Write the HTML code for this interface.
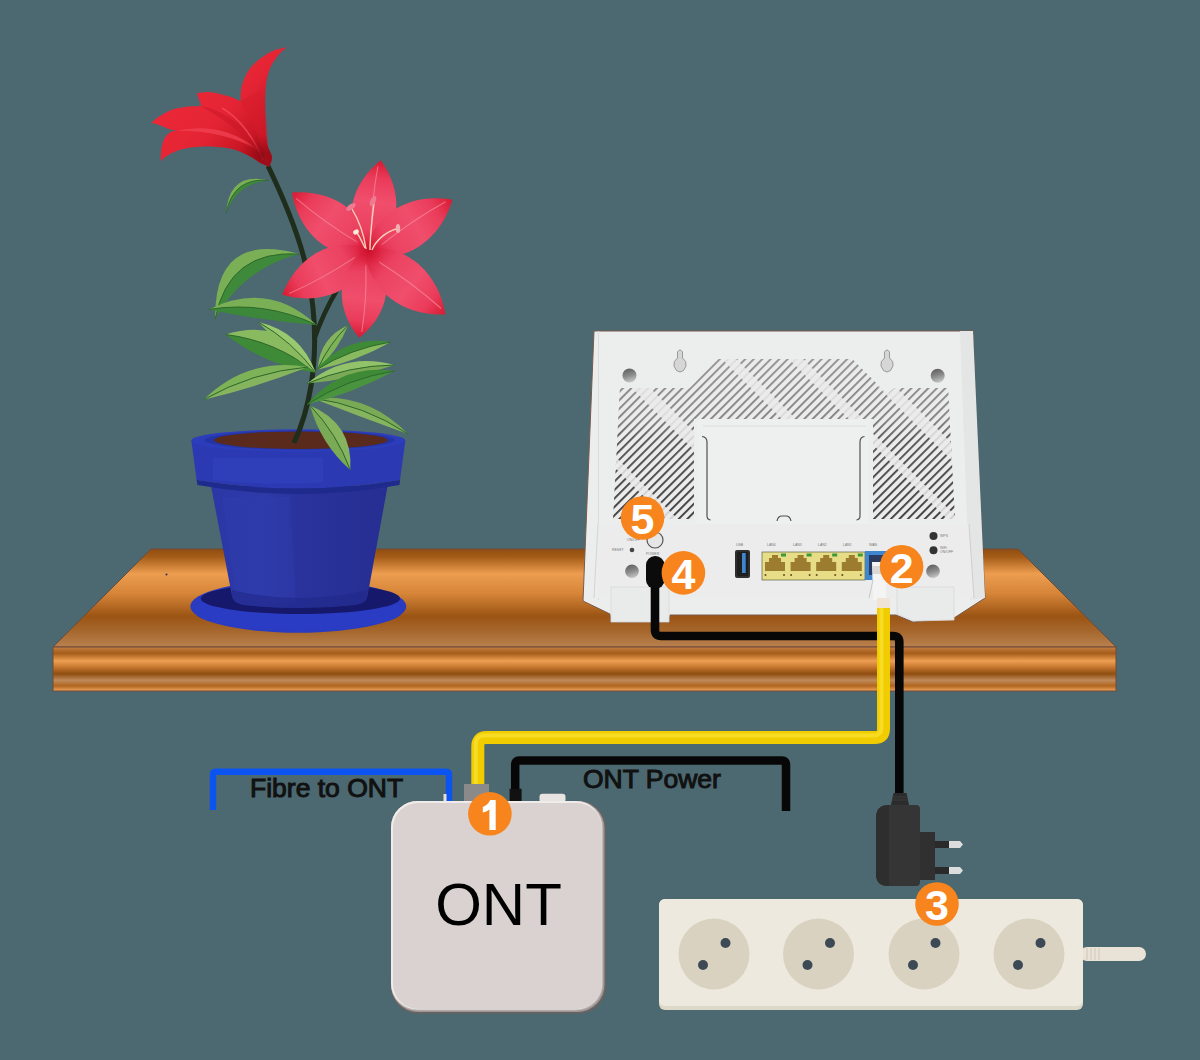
<!DOCTYPE html>
<html><head><meta charset="utf-8">
<style>
html,body{margin:0;padding:0;background:#4c6870;width:1200px;height:1060px;overflow:hidden}
svg{display:block}
text{font-family:"Liberation Sans",sans-serif}
</style></head><body>
<svg width="1200" height="1060" viewBox="0 0 1200 1060">
<defs>
<linearGradient id="shelfTop" x1="0" y1="549" x2="0" y2="648" gradientUnits="userSpaceOnUse">
<stop offset="0" stop-color="#8f4d10"/>
<stop offset="0.08" stop-color="#a45c18"/>
<stop offset="0.25" stop-color="#ec9d4f"/>
<stop offset="0.45" stop-color="#d68538"/>
<stop offset="0.68" stop-color="#9b5414"/>
<stop offset="0.85" stop-color="#a86a30"/>
<stop offset="1" stop-color="#bb8352"/>
</linearGradient>
<linearGradient id="shelfFront" x1="0" y1="648" x2="0" y2="691" gradientUnits="userSpaceOnUse">
<stop offset="0" stop-color="#c07a3c"/>
<stop offset="0.12" stop-color="#a45c1a"/>
<stop offset="0.3" stop-color="#ee9f52"/>
<stop offset="0.45" stop-color="#c4762e"/>
<stop offset="0.6" stop-color="#8f4d10"/>
<stop offset="0.75" stop-color="#c08a5a"/>
<stop offset="0.88" stop-color="#b0661f"/>
<stop offset="1" stop-color="#f0a45c"/>
</linearGradient>
<pattern id="vent" patternUnits="userSpaceOnUse" width="6" height="6" patternTransform="rotate(-45)">
<rect width="6" height="6" fill="#ebebeb"/>
<rect y="0" width="6" height="1.8" fill="#333333"/>
</pattern>
<linearGradient id="ventFade" x1="0" y1="359" x2="0" y2="519" gradientUnits="userSpaceOnUse">
<stop offset="0" stop-color="#ececec" stop-opacity="0.5"/>
<stop offset="0.38" stop-color="#ececec" stop-opacity="0.4"/>
<stop offset="0.5" stop-color="#ececec" stop-opacity="0.15"/>
<stop offset="1" stop-color="#ececec" stop-opacity="0"/>
</linearGradient>
<linearGradient id="upLily" x1="160" y1="60" x2="272" y2="166" gradientUnits="userSpaceOnUse">
<stop offset="0" stop-color="#f02a3a"/>
<stop offset="0.55" stop-color="#e42434"/>
<stop offset="0.85" stop-color="#c0121f"/>
<stop offset="1" stop-color="#9a0c18"/>
</linearGradient>
<linearGradient id="petalG" x1="0" y1="0" x2="1" y2="0">
<stop offset="0" stop-color="#d81c3a"/>
<stop offset="0.25" stop-color="#ec4262"/>
<stop offset="0.55" stop-color="#f04e6c"/>
<stop offset="0.8" stop-color="#ea3c5a"/>
<stop offset="1" stop-color="#d81a32"/>
</linearGradient>
<radialGradient id="centerG">
<stop offset="0" stop-color="#c8102a" stop-opacity="0.9"/>
<stop offset="0.5" stop-color="#d81c38" stop-opacity="0.6"/>
<stop offset="1" stop-color="#e83050" stop-opacity="0"/>
</radialGradient>
<linearGradient id="screwG" x1="0.3" y1="0" x2="0.6" y2="1">
<stop offset="0" stop-color="#5e5e5e"/>
<stop offset="0.5" stop-color="#8a8a8a"/>
<stop offset="1" stop-color="#c8c8c8"/>
</linearGradient>
<radialGradient id="baseG">
<stop offset="0" stop-color="#8a0a14" stop-opacity="0.9"/>
<stop offset="0.5" stop-color="#a00c18" stop-opacity="0.55"/>
<stop offset="1" stop-color="#b01020" stop-opacity="0"/>
</radialGradient>
<linearGradient id="potBody" x1="211" y1="0" x2="387" y2="0" gradientUnits="userSpaceOnUse">
<stop offset="0" stop-color="#2c37a6"/>
<stop offset="0.3" stop-color="#2d3aa8"/>
<stop offset="0.5" stop-color="#2a339c"/>
<stop offset="1" stop-color="#262e92"/>
</linearGradient>
</defs>
<rect width="1200" height="1060" fill="#4c6870"/>

<g id="shelf">
<path d="M151 549 L1018 549 L1116 647 L53 647 Z" fill="url(#shelfTop)" stroke="#6e4a3a" stroke-width="1"/>
<rect x="53" y="647" width="1063" height="44" fill="url(#shelfFront)" stroke="#6e4a3a" stroke-width="1"/>
<circle cx="166.5" cy="574.5" r="1" fill="#2a3050"/>
</g>
<g id="router">
<path d="M594 331 L973 331 L976 420 L985 598 L954 618 L913 622 L896 615 L670 615 L669 622 L611 622 L610 614 L583 601 Z" fill="#eceded" stroke="#7a5a4a" stroke-width="1"/>
<path d="M960 331 L973 331 L985 598 L970 600 Z" fill="#e4e5e5"/>
<path d="M598 331 L599 331 L599 600 L598 600 Z" fill="#dcdcdc"/>
<!-- vents -->
<path d="M620 388 L690 388 L718 359 L852 359 L887 394 L895 388 L948 388 L955 519 L873 519 L873 419 L694 419 L694 519 L613 519 Z" fill="url(#vent)"/>
<!-- light crossing bands -->
<path d="M620 388 L690 388 L718 359 L852 359 L887 394 L895 388 L948 388 L955 519 L873 519 L873 419 L694 419 L694 519 L613 519 Z" fill="url(#ventFade)"/>
<clipPath id="ventClip"><path d="M620 388 L690 388 L718 359 L852 359 L887 394 L895 388 L948 388 L955 519 L873 519 L873 419 L694 419 L694 519 L613 519 Z"/></clipPath>
<g clip-path="url(#ventClip)" stroke="#ebebeb" stroke-opacity="0.85" fill="none">
<path d="M625 372 L700 447" stroke-width="13"/>
<path d="M605 452 L680 527" stroke-width="8"/>
<path d="M722 352 L790 420" stroke-width="10"/>
<path d="M789 352 L857 420" stroke-width="10"/>
<path d="M880 380 L960 460" stroke-width="12"/>
<path d="M866 432 L955 521" stroke-width="8"/>
</g>
<!-- panel -->
<rect x="697" y="420" width="171" height="104" fill="#eeefef"/>
<path d="M703 426 L866 426" stroke="#dcdcdc" stroke-width="1"/>
<path d="M702 436.5 Q707 437 707 442 L707 516 Q707 519.5 710.5 520" fill="none" stroke="#505050" stroke-width="1.2"/>
<path d="M864.5 436.5 Q860 437 860 442 L860 516 Q860 519.5 856.5 520" fill="none" stroke="#505050" stroke-width="1.2"/>
<path d="M777 521 Q778 516 782 516 L786 516 Q790 516 791 521" fill="none" stroke="#505050" stroke-width="1.2"/>
<!-- lower panel -->
<path d="M598 524 L969 524 L974 598 L598 598 Z" fill="#ececec"/>
<path d="M598 524 L594 598" stroke="#d4d4d4" stroke-width="1"/>
<path d="M969 524 L974 598" stroke="#cfcfcf" stroke-width="1"/>
<!-- feet -->
<path d="M611 587 L669 587 L669 622 L611 622 Z" fill="#e9eaea" stroke="#d8d8d8" stroke-width="0.8"/>
<path d="M897 587 L954 587 L954 620 L913 621 L897 614 Z" fill="#e9eaea" stroke="#d8d8d8" stroke-width="0.8"/>
<!-- screws / keyholes -->
<g fill="url(#screwG)">
<circle cx="629.5" cy="375.5" r="7"/><circle cx="937.7" cy="375.8" r="7"/>
<circle cx="632" cy="571.3" r="6.8"/><circle cx="933" cy="571.3" r="6.8"/>
</g>
<g fill="#d6d6d6" stroke="#9a9a9a" stroke-width="1">
<path d="M677.5 352 Q680 348 682.5 352 L682.5 358 Q687 361 686 366 Q684 372 680 372 Q676 372 674 366 Q673 361 677.5 358 Z"/>
<path d="M884.5 352 Q887 348 889.5 352 L889.5 358 Q894 361 893 366 Q891 372 887 372 Q883 372 881 366 Q880 361 884.5 358 Z"/>
</g>
<!-- button, reset, leds -->
<circle cx="655" cy="540" r="8" fill="#e6e6e6" stroke="#555" stroke-width="1.2"/>
<circle cx="632" cy="550" r="2.3" fill="#444"/>
<circle cx="933.5" cy="536" r="4" fill="#333"/>
<circle cx="933.5" cy="550.2" r="4" fill="#333"/>
<g font-size="3.5" fill="#777">
<text x="612" y="551">RESET</text><text x="627" y="541">ON/OFF</text><text x="646" y="555">POWER</text>
<text x="736" y="546">USB</text><text x="767" y="546">LAN4</text><text x="793" y="546">LAN3</text><text x="818" y="546">LAN2</text><text x="843" y="546">LAN1</text><text x="869" y="546">WAN</text>
<text x="940" y="537">WPS</text><text x="940" y="549">WiFi</text><text x="940" y="553">ON/OFF</text>
</g>
<!-- USB -->
<rect x="735" y="550" width="15" height="28" rx="2" fill="#2e2e2e"/>
<rect x="737" y="552" width="11" height="24" rx="1" fill="#1e1e1e"/>
<rect x="742" y="553" width="3.7" height="20" fill="#3f86d0"/>
<!-- LAN -->
<rect x="762" y="552" width="103" height="28" fill="#e6dd86" stroke="#4a4a3a" stroke-width="0.6"/>


<path d="M765.0 571 L765.0 562 L769.0 562 L769.0 558 L772.0 558 L772.0 555 L778.0 555 L778.0 558 L781.0 558 L781.0 562 L785.0 562 L785.0 571 Z" fill="#9c7c2e"/>
<rect x="781.0" y="553.5" width="5" height="3" fill="#3c9a3c"/>
<circle cx="765.5" cy="575" r="1" fill="#6a4a20"/><circle cx="784.0" cy="575" r="1" fill="#6a4a20"/>

<path d="M790.6 571 L790.6 562 L794.6 562 L794.6 558 L797.6 558 L797.6 555 L803.6 555 L803.6 558 L806.6 558 L806.6 562 L810.6 562 L810.6 571 Z" fill="#9c7c2e"/>
<rect x="806.6" y="553.5" width="5" height="3" fill="#3c9a3c"/>
<circle cx="791.1" cy="575" r="1" fill="#6a4a20"/><circle cx="809.6" cy="575" r="1" fill="#6a4a20"/>

<path d="M816.2 571 L816.2 562 L820.2 562 L820.2 558 L823.2 558 L823.2 555 L829.2 555 L829.2 558 L832.2 558 L832.2 562 L836.2 562 L836.2 571 Z" fill="#9c7c2e"/>
<rect x="832.2" y="553.5" width="5" height="3" fill="#3c9a3c"/>
<circle cx="816.7" cy="575" r="1" fill="#6a4a20"/><circle cx="835.2" cy="575" r="1" fill="#6a4a20"/>

<path d="M841.8 571 L841.8 562 L845.8 562 L845.8 558 L848.8 558 L848.8 555 L854.8 555 L854.8 558 L857.8 558 L857.8 562 L861.8 562 L861.8 571 Z" fill="#9c7c2e"/>
<rect x="857.8" y="553.5" width="5" height="3" fill="#3c9a3c"/>
<circle cx="842.3" cy="575" r="1" fill="#6a4a20"/><circle cx="860.8" cy="575" r="1" fill="#6a4a20"/>
<rect x="865" y="551" width="22" height="29" fill="#3f86d0"/>
<rect x="869" y="555" width="16" height="20" fill="#2a3a60"/>
<path d="M872 562 L886 562 L886 600 L873 600 Z" fill="#f4f4f4"/>
<path d="M873 566 L885 566 L885 574 L873 574 Z" fill="#d8d8d8"/>
<path d="M869 598 L873 580" stroke="#c8c8c8" stroke-width="1"/>
<!-- power plug -->
<rect x="646" y="556" width="18.5" height="33" rx="9" fill="#0b0b0b"/>
</g>
<g id="pot">
<ellipse cx="298.3" cy="606.4" rx="108" ry="26.4" fill="#2a3bbf"/>
<ellipse cx="298.3" cy="611" rx="104" ry="20" fill="#2b3cc4"/>
<ellipse cx="300.4" cy="598.5" rx="99.6" ry="15.5" fill="#16186c"/>
<path d="M211 486 L387.6 486 L367.5 596 Q367 603 355 605 Q299 611 244 605 Q233 603 232 596 Z" fill="url(#potBody)"/>
<path d="M222 497 L290 497 L296 603 Q270 604 244 601 Q236 598 235 590 Z" fill="#3040b2" opacity="0.35"/>
<path d="M232 590 Q299 606 367.5 590 L367 597 Q367 603 355 605 Q299 611 244 605 Q233 603 232 597 Z" fill="#202888" opacity="0.6"/>
<path d="M191.4 441 L405.3 441 L400 480 Q298.3 497 196.6 480 Z" fill="#2b3ab2"/>
<path d="M213 458 L323 458 L323 482 Q268 486 213 480 Z" fill="#3546c2" opacity="0.45"/>
<path d="M196.6 480 Q298.3 497 400 480 L399.5 485 Q298.3 503 197.5 485 Z" fill="#1e2a8c"/>
<ellipse cx="298.3" cy="440.5" rx="107" ry="11.2" fill="#2c3dbc"/>
<ellipse cx="299.5" cy="440.2" rx="95" ry="9.5" fill="#2434a6"/>
<ellipse cx="300.8" cy="440.2" rx="86.8" ry="8.8" fill="#5a2a1c"/>
</g>
<g id="plant">
<path d="M268 166 C282 195 300 235 308 275 C316 315 316 355 311 386 C307 410 300 430 294 443" fill="none" stroke="#1f2e1c" stroke-width="5"/>
<path d="M314 340 C320 322 328 305 337 290" fill="none" stroke="#1f2e1c" stroke-width="4.5"/>
<path d="M268.9 180.4 Q228.8 171.6 226.4 212.5 Q233.2 177.3 268.9 180.4 Z" fill="#7aaf55"/><path d="M268.9 180.4 Q237.5 183.0 226.4 212.5 Q233.2 177.3 268.9 180.4 Z" fill="#3f8a3a"/><path d="M268.9 180.4 Q233.2 177.3 226.4 212.5" fill="none" stroke="#2d6a28" stroke-width="1"/>
<path d="M299.4 254.1 Q214.0 230.3 215.2 319.0 Q228.6 249.3 299.4 254.1 Z" fill="#7aaf55"/><path d="M299.4 254.1 Q243.3 268.3 215.2 319.0 Q228.6 249.3 299.4 254.1 Z" fill="#3f8a3a"/><path d="M299.4 254.1 Q228.6 249.3 215.2 319.0" fill="none" stroke="#2d6a28" stroke-width="1"/>
<path d="M316.7 325.0 Q268.2 279.8 208.8 309.4 Q265.2 300.4 316.7 325.0 Z" fill="#7aaf55"/><path d="M316.7 325.0 Q262.2 321.0 208.8 309.4 Q265.2 300.4 316.7 325.0 Z" fill="#3d873a"/><path d="M316.7 325.0 Q265.2 300.4 208.8 309.4" fill="none" stroke="#2d6a28" stroke-width="1"/>
<path d="M315.8 372.8 Q286.9 315.7 225.7 334.5 Q276.2 340.8 315.8 372.8 Z" fill="#8aba60"/><path d="M315.8 372.8 Q265.6 365.8 225.7 334.5 Q276.2 340.8 315.8 372.8 Z" fill="#3e8a36"/><path d="M315.8 372.8 Q276.2 340.8 225.7 334.5" fill="none" stroke="#2d6a28" stroke-width="1"/>
<path d="M315.8 372.8 Q300.8 331.8 258.3 322.0 Q292.3 341.4 315.8 372.8 Z" fill="#9ac870"/><path d="M315.8 372.8 Q283.9 351.0 258.3 322.0 Q292.3 341.4 315.8 372.8 Z" fill="#8aba60"/><path d="M315.8 372.8 Q292.3 341.4 258.3 322.0" fill="none" stroke="#2d6a28" stroke-width="1"/>
<path d="M308.0 367.0 Q247.4 356.6 203.6 399.7 Q252.2 371.9 308.0 367.0 Z" fill="#7db257"/><path d="M308.0 367.0 Q257.0 387.2 203.6 399.7 Q252.2 371.9 308.0 367.0 Z" fill="#86b45e"/><path d="M308.0 367.0 Q252.2 371.9 203.6 399.7" fill="none" stroke="#2d6a28" stroke-width="1"/>
<path d="M317.7 369.0 Q338.1 350.5 348.3 325.0 Q328.9 344.1 317.7 369.0 Z" fill="#7db257"/><path d="M317.7 369.0 Q319.7 337.8 348.3 325.0 Q328.9 344.1 317.7 369.0 Z" fill="#86b45e"/><path d="M317.7 369.0 Q328.9 344.1 348.3 325.0" fill="none" stroke="#2d6a28" stroke-width="1"/>
<path d="M316.0 370.0 Q355.6 362.0 390.8 342.0 Q350.6 348.5 316.0 370.0 Z" fill="#8aba60"/><path d="M316.0 370.0 Q345.5 335.0 390.8 342.0 Q350.6 348.5 316.0 370.0 Z" fill="#3e8a36"/><path d="M316.0 370.0 Q350.6 348.5 390.8 342.0" fill="none" stroke="#2d6a28" stroke-width="1"/>
<path d="M307.0 383.6 Q351.9 379.6 394.5 365.0 Q348.9 365.5 307.0 383.6 Z" fill="#7aaa55"/><path d="M307.0 383.6 Q345.9 351.4 394.5 365.0 Q348.9 365.5 307.0 383.6 Z" fill="#92c26a"/><path d="M307.0 383.6 Q348.9 365.5 394.5 365.0" fill="none" stroke="#2d6a28" stroke-width="1"/>
<path d="M312.0 398.0 Q359.7 416.7 408.0 434.0 Q364.2 404.8 312.0 398.0 Z" fill="#86b45e"/><path d="M312.0 398.0 Q368.7 392.8 408.0 434.0 Q364.2 404.8 312.0 398.0 Z" fill="#7aaa55"/><path d="M312.0 398.0 Q364.2 404.8 408.0 434.0" fill="none" stroke="#2d6a28" stroke-width="1"/>
<path d="M307.0 404.5 Q352.9 393.4 394.5 371.0 Q347.2 378.4 307.0 404.5 Z" fill="#4a9440"/><path d="M307.0 404.5 Q341.5 363.5 394.5 371.0 Q347.2 378.4 307.0 404.5 Z" fill="#3e8a36"/><path d="M307.0 404.5 Q347.2 378.4 394.5 371.0" fill="none" stroke="#2d6a28" stroke-width="1"/>
<path d="M310.0 405.4 Q320.6 443.6 350.3 470.0 Q336.9 433.5 310.0 405.4 Z" fill="#7aaa55"/><path d="M310.0 405.4 Q353.2 423.3 350.3 470.0 Q336.9 433.5 310.0 405.4 Z" fill="#86b45e"/><path d="M310.0 405.4 Q336.9 433.5 350.3 470.0" fill="none" stroke="#2d6a28" stroke-width="1"/>
</g>
<g id="lily">
<path transform="translate(368.2 251.8) rotate(-142.2)" d="M0 -4.2 C27.0 -30.8 67.5 -26.6 96.5 0 C67.5 26.6 27.0 30.8 0 4.2 Z" fill="url(#petalG)"/><path transform="translate(368.2 251.8) rotate(-142.2)" d="M14.5 1 C38.6 -2 67.5 -3 89.7 -2" fill="none" stroke="#f8a0b0" stroke-width="1.1" opacity="0.55"/>
<path transform="translate(368.2 251.8) rotate(-82.2)" d="M0 -4.2 C25.8 -30.8 64.6 -26.6 92.3 0 C64.6 26.6 25.8 30.8 0 4.2 Z" fill="url(#petalG)"/><path transform="translate(368.2 251.8) rotate(-82.2)" d="M13.8 1 C36.9 -2 64.6 -3 85.8 -2" fill="none" stroke="#f8a0b0" stroke-width="1.1" opacity="0.55"/>
<path transform="translate(368.2 251.8) rotate(-31.7)" d="M0 -4.2 C27.7 -30.8 69.3 -26.6 99.0 0 C69.3 26.6 27.7 30.8 0 4.2 Z" fill="url(#petalG)"/><path transform="translate(368.2 251.8) rotate(-31.7)" d="M14.9 1 C39.6 -2 69.3 -3 92.1 -2" fill="none" stroke="#f8a0b0" stroke-width="1.1" opacity="0.55"/>
<path transform="translate(368.2 251.8) rotate(153.4)" d="M0 -4.2 C26.9 -30.8 67.3 -26.6 96.2 0 C67.3 26.6 26.9 30.8 0 4.2 Z" fill="url(#petalG)"/><path transform="translate(368.2 251.8) rotate(153.4)" d="M14.4 1 C38.5 -2 67.3 -3 89.4 -2" fill="none" stroke="#f8a0b0" stroke-width="1.1" opacity="0.55"/>
<path transform="translate(368.2 251.8) rotate(96.0)" d="M0 -4.2 C24.2 -30.8 60.5 -26.6 86.5 0 C60.5 26.6 24.2 30.8 0 4.2 Z" fill="url(#petalG)"/><path transform="translate(368.2 251.8) rotate(96.0)" d="M13.0 1 C34.6 -2 60.5 -3 80.4 -2" fill="none" stroke="#f8a0b0" stroke-width="1.1" opacity="0.55"/>
<path transform="translate(368.2 251.8) rotate(39.1)" d="M0 -4.2 C27.8 -30.8 69.6 -26.6 99.4 0 C69.6 26.6 27.8 30.8 0 4.2 Z" fill="url(#petalG)"/><path transform="translate(368.2 251.8) rotate(39.1)" d="M14.9 1 C39.8 -2 69.6 -3 92.4 -2" fill="none" stroke="#f8a0b0" stroke-width="1.1" opacity="0.55"/>
<circle cx="369" cy="251" r="18" fill="url(#centerG)"/>
<g stroke="#f8d0b8" stroke-width="1.4" fill="none"><path d="M366 249 C364 235 360 222 352 209"/><path d="M370 250 C370 235 372 220 374 203"/><path d="M372 250 C376 240 386 232 396 229"/><path d="M365 248 C362 242 360 237 357 233"/></g>
<g fill="#f07a90"><ellipse cx="351" cy="207" rx="2.6" ry="5.5" transform="rotate(55 351 207)"/><ellipse cx="373" cy="201" rx="2.6" ry="5.5" transform="rotate(25 373 201)"/></g>
<ellipse cx="398" cy="228.5" rx="2.2" ry="4.5" fill="#f4b0b0"/>
<ellipse cx="356" cy="232" rx="3" ry="2.3" transform="rotate(-30 356 232)" fill="#f8ecd8"/>
</g>
<path id="uplily" d="M286.7 47.3 C285.4 48.5 281.4 51.5 278.7 54.7 C276.0 57.9 272.7 62.5 270.7 66.7 C268.7 70.9 267.6 75.1 266.7 80.0 C265.8 84.9 265.5 90.2 265.3 96.0 C265.1 101.8 265.2 108.5 265.3 114.7 C265.4 120.9 265.6 128.0 266.0 133.3 C266.4 138.6 267.0 142.7 268.0 146.7 C269.0 150.7 271.8 154.0 272.0 157.3 C272.2 160.6 269.8 165.1 269.3 166.7 C267.8 166.0 263.3 164.5 260.0 162.7 C256.7 160.9 253.8 158.2 249.3 156.0 C244.9 153.8 239.3 150.9 233.3 149.3 C227.3 147.8 220.0 147.0 213.3 146.7 C206.6 146.4 199.3 146.6 193.3 147.3 C187.3 148.0 181.7 149.2 177.3 150.7 C172.9 152.1 169.5 154.2 166.7 156.0 C163.9 157.8 161.7 160.4 160.7 161.3 C160.8 159.1 160.8 151.9 161.5 148.0 C162.2 144.1 163.2 140.7 164.7 138.0 C166.2 135.3 168.6 133.2 170.7 132.0 C172.8 130.8 176.2 130.9 177.3 130.7 C176.0 130.5 172.2 130.2 169.3 129.3 C166.4 128.4 163.0 126.4 160.0 125.3 C157.0 124.2 152.8 123.1 151.3 122.7 C152.8 121.6 156.3 118.2 160.0 116.0 C163.7 113.8 168.9 110.8 173.3 109.3 C177.8 107.8 182.0 107.2 186.7 106.7 C191.4 106.2 198.9 106.1 201.3 106.0 C200.9 104.8 199.5 100.8 198.7 98.7 C197.9 96.6 197.0 94.2 196.7 93.3 C198.8 93.1 205.0 91.8 209.3 92.0 C213.6 92.2 218.9 93.8 222.7 94.7 C226.5 95.6 229.0 96.2 232.0 97.3 C235.0 98.4 239.2 100.6 240.7 101.3 C240.7 100.0 240.4 96.4 240.7 93.3 C241.0 90.2 241.3 86.7 242.7 82.7 C244.1 78.7 246.4 73.3 249.3 69.3 C252.2 65.3 256.0 61.8 260.0 58.7 C264.0 55.6 268.9 52.6 273.3 50.7 C277.8 48.8 284.5 47.9 286.7 47.3 Z" fill="url(#upLily)"/>
<path d="M201 106 C222 110 245 125 262 150 L268 163 C250 140 230 122 201 106 Z" fill="#c81828" opacity="0.55"/>
<path d="M177 131 C205 124 235 130 258 150 C235 136 205 130 177 131 Z" fill="#f04050" opacity="0.8"/>
<path d="M222 108 C240 118 255 140 263 160" fill="none" stroke="#f44a5a" stroke-width="1.5" opacity="0.8"/>
<path d="M240 101 C250 115 258 135 265 160 L268 163 C268 130 266 110 262 90 Z" fill="#d81c2c" opacity="0.5"/>
<clipPath id="upClip"><path d="M286.7 47.3 C285.4 48.5 281.4 51.5 278.7 54.7 C276.0 57.9 272.7 62.5 270.7 66.7 C268.7 70.9 267.6 75.1 266.7 80.0 C265.8 84.9 265.5 90.2 265.3 96.0 C265.1 101.8 265.2 108.5 265.3 114.7 C265.4 120.9 265.6 128.0 266.0 133.3 C266.4 138.6 267.0 142.7 268.0 146.7 C269.0 150.7 271.8 154.0 272.0 157.3 C272.2 160.6 269.8 165.1 269.3 166.7 C267.8 166.0 263.3 164.5 260.0 162.7 C256.7 160.9 253.8 158.2 249.3 156.0 C244.9 153.8 239.3 150.9 233.3 149.3 C227.3 147.8 220.0 147.0 213.3 146.7 C206.6 146.4 199.3 146.6 193.3 147.3 C187.3 148.0 181.7 149.2 177.3 150.7 C172.9 152.1 169.5 154.2 166.7 156.0 C163.9 157.8 161.7 160.4 160.7 161.3 C160.8 159.1 160.8 151.9 161.5 148.0 C162.2 144.1 163.2 140.7 164.7 138.0 C166.2 135.3 168.6 133.2 170.7 132.0 C172.8 130.8 176.2 130.9 177.3 130.7 C176.0 130.5 172.2 130.2 169.3 129.3 C166.4 128.4 163.0 126.4 160.0 125.3 C157.0 124.2 152.8 123.1 151.3 122.7 C152.8 121.6 156.3 118.2 160.0 116.0 C163.7 113.8 168.9 110.8 173.3 109.3 C177.8 107.8 182.0 107.2 186.7 106.7 C191.4 106.2 198.9 106.1 201.3 106.0 C200.9 104.8 199.5 100.8 198.7 98.7 C197.9 96.6 197.0 94.2 196.7 93.3 C198.8 93.1 205.0 91.8 209.3 92.0 C213.6 92.2 218.9 93.8 222.7 94.7 C226.5 95.6 229.0 96.2 232.0 97.3 C235.0 98.4 239.2 100.6 240.7 101.3 C240.7 100.0 240.4 96.4 240.7 93.3 C241.0 90.2 241.3 86.7 242.7 82.7 C244.1 78.7 246.4 73.3 249.3 69.3 C252.2 65.3 256.0 61.8 260.0 58.7 C264.0 55.6 268.9 52.6 273.3 50.7 C277.8 48.8 284.5 47.9 286.7 47.3 Z"/></clipPath>
<ellipse clip-path="url(#upClip)" cx="262" cy="155" rx="24" ry="22" fill="url(#baseG)"/>
<g id="cables" fill="none" stroke-linecap="butt">
<path d="M655 588 L655 630 Q655 636 661 636 L893.3 636 Q899.3 636 899.3 642 L899.3 795" stroke="#070707" stroke-width="8.6"/>
<path d="M883.5 606 L883.5 729 Q883.5 737.6 874.9 737.6 L486.3 737.6 Q477.8 737.6 477.8 746.2 L477.8 786" stroke="#f0cc00" stroke-width="13"/>
<path d="M881.5 606 L881.5 727 Q881.5 735.6 872.9 735.6 L484.3 735.6 Q475.8 735.6 475.8 744.2 L475.8 786" stroke="#fae232" stroke-width="4" opacity="0.7"/>
<rect x="877" y="598" width="13" height="10" fill="#efe4d6" stroke="none"/>
<path d="M213 810 L213 774.75 Q213 771.75 216 771.75 L446 771.75 Q449 771.75 449 774.75 L449 801" stroke="#0c54f2" stroke-width="6.5"/>
<path d="M515.2 801 L515.2 764.5 Q515.2 760.5 519.2 760.5 L782 760.5 Q786 760.5 786 764.5 L786 811" stroke="#070707" stroke-width="8.5"/>
</g>
<text x="250" y="797" font-size="26.5" fill="#111" stroke="#111" stroke-width="1">Fibre to ONT</text>
<text x="583" y="787.5" font-size="26.5" fill="#111" stroke="#111" stroke-width="1">ONT Power</text>
<g id="ont">
<rect x="464" y="784" width="25" height="17" fill="#8a8a8a"/>
<rect x="443.5" y="794" width="3" height="7" fill="#e8e0d0"/>
<rect x="509.6" y="788.8" width="12" height="12.2" fill="#111"/>
<rect x="539.5" y="793.75" width="26" height="9" rx="3" fill="#e8e4e2"/>
<rect x="391" y="801" width="215" height="212.6" rx="27" fill="#6a6260"/>
<rect x="391" y="801" width="213.5" height="211" rx="27" fill="#9d9795"/>
<rect x="391" y="801" width="212" height="209.5" rx="26.5" fill="#c0bab8"/>
<rect x="391" y="801" width="211" height="208.5" rx="26.5" fill="#f0ecea"/>
<rect x="393" y="803" width="209" height="206" rx="25" fill="#d9d2d0"/>
<text x="498.5" y="925" font-size="60" text-anchor="middle" fill="#000">ONT</text>
</g>
<g id="strip">
<rect x="1080" y="947" width="66" height="14" rx="7" fill="#e8e3d6"/>
<g stroke="#cfc8b8" stroke-width="1"><path d="M1087 948 L1087 960"/><path d="M1091 948 L1091 960"/><path d="M1095 948 L1095 960"/><path d="M1099 948 L1099 960"/></g>
<rect x="659" y="899" width="424" height="111" rx="6" fill="#ded8c9"/>
<rect x="659" y="899" width="424" height="107" rx="6" fill="#ede9df"/>
<g fill="#d9d2c0">
<circle cx="714" cy="954" r="35.5"/><circle cx="818.5" cy="954" r="35.5"/><circle cx="924" cy="954" r="35.5"/><circle cx="1029" cy="954" r="35.5"/>
</g>
<g fill="#3d4a55">
<circle cx="725.5" cy="943" r="5"/><circle cx="703" cy="965" r="5"/>
<circle cx="830" cy="943" r="5"/><circle cx="807.5" cy="965" r="5"/>
<circle cx="935.5" cy="943" r="5"/><circle cx="913" cy="965" r="5"/>
<circle cx="1040.5" cy="943" r="5"/><circle cx="1018" cy="965" r="5"/>
</g>
</g>
<g id="adapter">
<path d="M893.5 793 L906.5 793 L909 805 L891 805 Z" fill="#2c2c2c"/><g stroke="#444" stroke-width="0.7"><path d="M892.5 797 L907.5 797"/><path d="M892 800 L908 800"/></g>
<path d="M889 805 L916 805 Q920 805 920 809 L920 882 Q920 886 916 886 L888 886 Q876 886 876 874 L876 818 Q876 805 889 805 Z" fill="#353535"/>
<path d="M889 805 L889 886 L888 886 Q876 886 876 874 L876 818 Q876 805 889 805 Z" fill="#2e2e2e"/>
<rect x="920" y="832" width="15" height="48" fill="#303030"/>
<rect x="935" y="841" width="14" height="7" fill="#2a2a2a"/><path d="M949 841 L960 841 L963 844.5 L960 848 L949 848 Z" fill="#ddd"/>
<rect x="935" y="867" width="14" height="7" fill="#2a2a2a"/><path d="M949 867 L960 867 L963 870.5 L960 874 L949 874 Z" fill="#ddd"/>
</g>
<g id="badges" font-weight="bold" fill="#fff" font-size="43" text-anchor="middle">
<circle cx="642.5" cy="518" r="21.8" fill="#f7841c"/>
<text x="642.5" y="534.2">5</text>
<circle cx="683.4" cy="572.9" r="21.8" fill="#f7841c"/>
<text x="683.4" y="589.1">4</text>
<circle cx="901.6" cy="566.7" r="21.8" fill="#f7841c"/>
<text x="901.6" y="582.9">2</text>
<circle cx="489.9" cy="813.8" r="21.8" fill="#f7841c"/>
<path transform="translate(0.0 0.0)" d="M495.7 800 L495.7 830 L489.4 830 L489.4 809.5 Q486.5 811.8 482.8 812.6 L482.8 807 Q488 805 490.2 800 Z" fill="#fff"/>
<circle cx="937" cy="904" r="21.8" fill="#f7841c"/>
<text x="937" y="920.2">3</text>
</g>
</svg></body></html>
